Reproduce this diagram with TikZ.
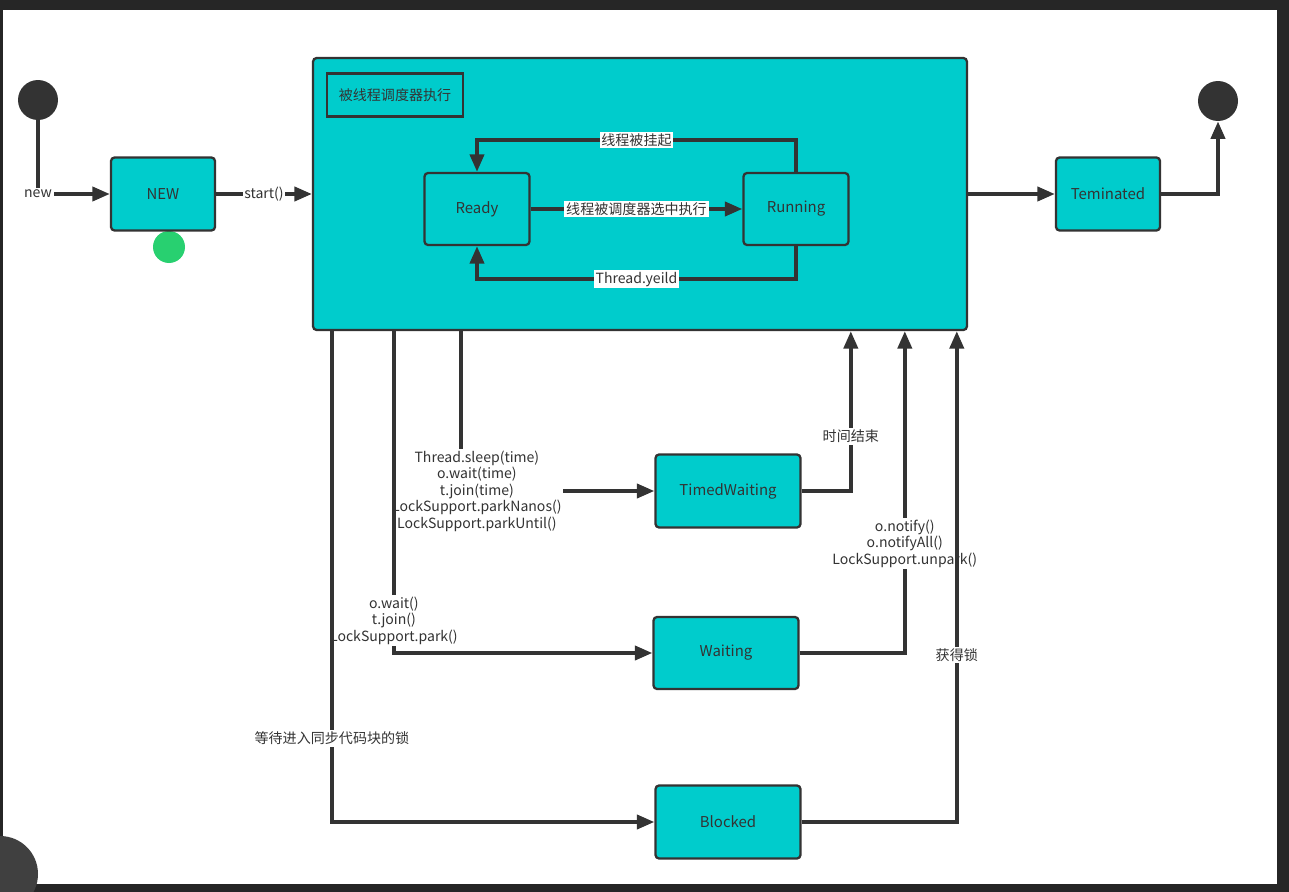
\documentclass[tikz,border=0pt]{standalone}
\usepackage{fontspec}
\setmainfont{Noto Sans CJK SC}
\usetikzlibrary{arrows.meta}
\definecolor{boxcyan}{RGB}{0,204,204}
\definecolor{ink}{RGB}{51,51,51}
\definecolor{cursorgreen}{RGB}{40,208,112}
\tikzset{
  state/.style={draw=ink, line width=1.3pt, fill=boxcyan, rounded corners=2pt, minimum width=2.08cm, minimum height=1.46cm, text=ink, font=\fontsize{8.5}{10}\selectfont},
  wide/.style={state, minimum width=2.9cm},
  dot/.style={circle, fill=ink, minimum size=0.8cm, inner sep=0pt},
  flow/.style={draw=ink, line width=2.2pt, -{Triangle[length=10pt,width=8pt]}},
  lbl/.style={fill=white, text=ink, inner sep=1pt, align=center, font=\fontsize{8}{9.4}\selectfont},
}
\begin{document}
\begin{tikzpicture}[x=0.02cm, y=-0.02cm]
\useasboundingbox (0,0) rectangle (1289,892);
\fill[black!85] (0,0) rectangle (1289,892);
\fill[white] (3,10) rectangle (1277,884);
\fill[black!75] (0,874) circle (38);
\fill[cursorgreen] (169,247) circle (16);

\path (38,100) node[dot] (start) {};
\path (163,194) node[state] (new) {NEW};
\path (640,194) node[state, minimum width=13.08cm, minimum height=5.44cm] (sched) {};
\path (395,95) node[draw=ink, line width=1.3pt, minimum width=2.72cm, minimum height=0.86cm, text=ink, font=\fontsize{8}{9.4}\selectfont] (title) {被线程调度器执行};
\path (477,209) node[state, minimum width=2.1cm, minimum height=1.44cm] (ready) {Ready};
\path (796,209) node[state, minimum width=2.1cm, minimum height=1.44cm] (running) {Running};
\path (1108,194) node[state] (term) {Teminated};
\path (1218,101) node[dot] (end) {};
\path (728,491) node[wide] (timed) {TimedWaiting};
\path (726,653) node[wide, minimum height=1.44cm] (waiting) {Waiting};
\path (728,822) node[wide] (blocked) {Blocked};

\draw[flow] (start) |- node[lbl] {new} (new);
\draw[flow] (new) -- node[lbl] {start()} (sched);
\draw[flow] (ready) -- node[lbl] {线程被调度器选中执行} (running);
\draw[flow] (running.north) -- ++(0,-32) -| node[lbl, pos=0.25] {线程被挂起} (ready.north);
\draw[flow] (running.south) -- ++(0,33) -| node[lbl, pos=0.25] {Thread.yeild} (ready.south);
\draw[flow] (sched) -- (term);
\draw[flow] (term) -| (end);

\draw[flow] ([xshift=2.98cm]sched.south west) |- node[lbl, xshift=0.32cm] {Thread.sleep(time)\\o.wait(time)\\t.join(time)\\LockSupport.parkNanos()\\LockSupport.parkUntil()} (timed.west);
\draw[flow] (timed) -| node[lbl, pos=0.67] {时间结束} ([xshift=10.78cm]sched.south west);
\draw[flow] ([xshift=1.64cm]sched.south west) |- node[lbl, pos=0.45] {o.wait()\\t.join()\\LockSupport.park()} (waiting.west);
\draw[flow] (waiting) -| node[lbl, pos=0.67] {o.notify()\\o.notifyAll()\\LockSupport.unpark()} ([xshift=11.86cm]sched.south west);
\draw[flow] ([xshift=0.4cm]sched.south west) |- node[lbl, pos=0.415] {等待进入同步代码块的锁} (blocked.west);
\draw[flow] (blocked) -| node[lbl, pos=0.67] {获得锁} ([xshift=12.9cm]sched.south west);
\end{tikzpicture}
\end{document}
